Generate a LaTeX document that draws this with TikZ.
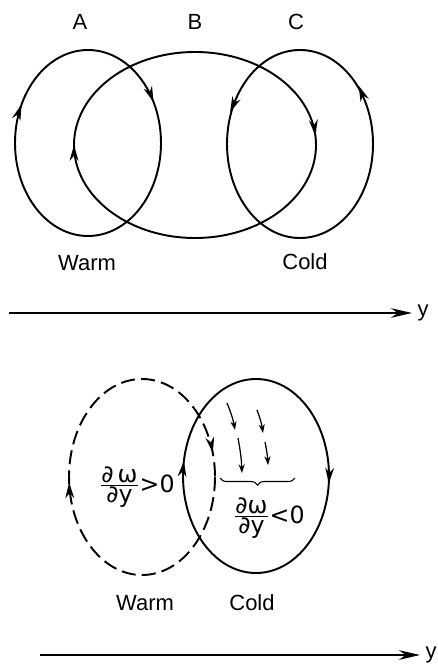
\documentclass[tikz,border=0pt]{standalone}
\usepackage{fontspec}
\setmainfont{Liberation Sans}
\newfontfamily\symfont{DejaVu Sans}
\usetikzlibrary{arrows.meta,decorations.markings,decorations.pathreplacing}

\begin{document}
\begin{tikzpicture}[
			x=0.02cm,
			y=-0.02cm,
			lab/.style={
				inner sep=1pt,
				font=\fontsize{12.5}{15}\selectfont
			},
			fraclab/.style={
				inner sep=1pt,
				font=\symfont\fontsize{13.5}{16}\selectfont
			},
			loop/.style={line width=1.1pt},
			dashloop/.style={line width=1.1pt,dash pattern=on 8pt off 3.5pt},
			fwd/.style 2 args={
				postaction={decorate},
				decoration={markings,
					mark=at position #1 with {\arrow{Stealth[length=9pt,width=5pt]}},
					mark=at position #2 with {\arrow{Stealth[length=9pt,width=5pt]}}}
			},
			bwd/.style 2 args={
				postaction={decorate},
				decoration={markings,
					mark=at position #1 with {\arrow{Stealth[length=9pt,width=5pt,reversed]}},
					mark=at position #2 with {\arrow{Stealth[length=9pt,width=5pt,reversed]}}}
			},
			axis/.style={line width=1.1pt,-{Stealth[length=12pt,width=5.5pt]}},
			flow/.style={line width=0.7pt,-{Stealth[length=5pt,width=3.5pt]}}
			]
			
			\useasboundingbox (0,0) rectangle (438,665);
			
			\draw[loop,fwd={0.575}{0.92}] (88,143) ellipse [x radius=73,y radius=93];
			\draw[loop,fwd={0.5}{0.986}] (195,145) ellipse [x radius=121,y radius=93];
			\draw[loop,bwd={0.59}{0.915}] (300,144) ellipse [x radius=73,y radius=94];
			
			\node[lab] (labA) at (80,22) {A};
			\node[lab] (labB) at (195,22) {B};
			\node[lab] (labC) at (296,22) {C};
			\node[lab] (warm1) at (87,263) {Warm};
			\node[lab] (cold1) at (305,262) {Cold};
			
			\coordinate (y1start) at (9,313);
			\coordinate (y1end) at (412,313);
			\draw[axis] (y1start) -- (y1end);
			\node[lab,anchor=west,inner sep=3pt] (y1lab) at (y1end) {y};
			
			\draw[dashloop,fwd={0.49}{0.955}] (142,477) ellipse [x radius=73,y radius=98];
			\draw[loop,fwd={0.264}{0.778}] (256,379) arc [start angle=-90,end angle=270,x radius=73,y radius=97] -- cycle;
			
			\coordinate (s1a) at (227,403);
			\coordinate (s1b) at (235,430);
			\coordinate (s1c) at (238,438);
			\coordinate (s1d) at (242,473);
			\coordinate (s2a) at (257,410);
			\coordinate (s2b) at (263,433);
			\coordinate (s2c) at (265,442);
			\coordinate (s2d) at (268,465);
			\draw[flow] (s1a) to[bend left=6] (s1b);
			\draw[flow] (s1c) to[bend left=4] (s1d);
			\draw[flow] (s2a) to[bend left=6] (s2b);
			\draw[flow] (s2c) to[bend left=4] (s2d);
			
			\coordinate (braceR) at (295,478);
			\coordinate (braceL) at (220,478);
			\draw[line width=0.6pt,decorate,decoration={brace,amplitude=4pt}] (braceR) -- (braceL);
			
			\node[fraclab] (gtlab) at (137,487) {$\frac{\mbox{∂\,ω}}{\mbox{∂y}}\mbox{>0}$};
			\node[fraclab] (ltlab) at (269,518) {$\frac{\mbox{∂ω}}{\mbox{∂y}}\mbox{<0}$};
			
			\node[lab] (warm2) at (145,603) {Warm};
			\node[lab] (cold2) at (252,603) {Cold};
			
			\coordinate (y2start) at (40,655);
			\coordinate (y2end) at (420,655);
			\draw[axis] (y2start) -- (y2end);
			\node[lab,anchor=west,inner sep=3pt] (y2lab) at (y2end) {y};
			
		\end{tikzpicture}
\end{document}
